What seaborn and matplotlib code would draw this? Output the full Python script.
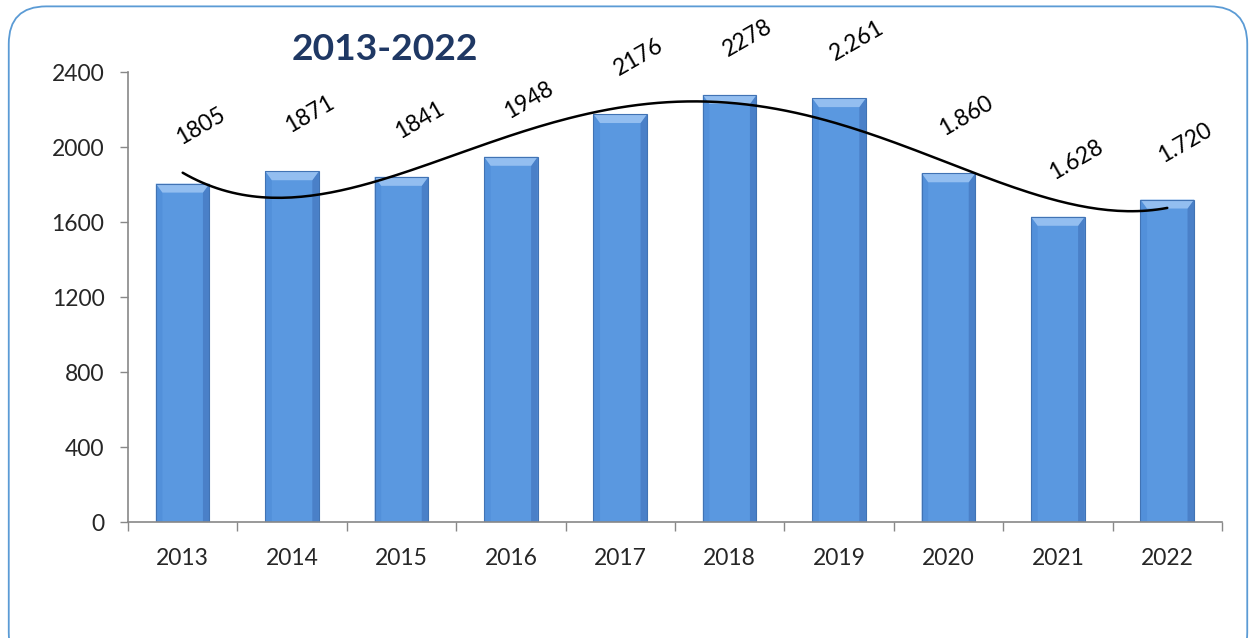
import matplotlib.pyplot as plt
import numpy as np
import pandas as pd
import seaborn as sns
from matplotlib.patches import FancyBboxPatch

years = ['2013', '2014', '2015', '2016', '2017', '2018', '2019', '2020', '2021', '2022']
values = [1805, 1871, 1841, 1948, 2176, 2278, 2261, 1860, 1628, 1720]
value_labels = ['1805', '1871', '1841', '1948', '2176', '2278', '2.261', '1.860', '1.628', '1.720']
y_ticks = [0, 400, 800, 1200, 1600, 2000, 2400]
title = '2013-2022'


def add_bevel(ax, patch, bx=0.06, by=48):
    """Fake the spreadsheet's bevelled bar look."""
    x0, w, h = patch.get_x(), patch.get_width(), patch.get_height()
    z = patch.get_zorder() + 0.1
    ax.fill([x0, x0 + bx, x0 + bx, x0], [h, h - by, 0, 0],
            color='#5290DA', linewidth=0, zorder=z)
    ax.fill([x0 + w, x0 + w - bx, x0 + w - bx, x0 + w], [h, h - by, 0, 0],
            color='#4A80C8', linewidth=0, zorder=z)
    ax.fill([x0, x0 + w, x0 + w - bx, x0 + bx], [h, h, h - by, h - by],
            color='#93BEF0', linewidth=0, zorder=z)
    ax.fill([x0, x0 + w, x0 + w, x0], [h, h, 0, 0],
            facecolor='none', edgecolor='#4173B4', linewidth=0.8, zorder=z + 0.1)


def main():
    sns.set_style('white')
    plt.rcParams['font.family'] = ['Lato', 'DejaVu Sans']

    df = pd.DataFrame({'year': years, 'value': values})

    fig = plt.figure(figsize=(12.51, 6.38), dpi=100)
    ax = fig.add_axes([0.1023, 0.1818, 0.8745, 0.7053])

    sns.barplot(data=df, x='year', y='value', color='#5A98E0', width=0.49,
                saturation=1, linewidth=0, ax=ax)
    for patch in list(ax.patches):
        add_bevel(ax, patch)

    # polynomial trendline as in the spreadsheet
    xs = np.arange(len(values))
    coeffs = np.polyfit(xs, values, 4)
    xf = np.linspace(0, len(values) - 1, 200)
    ax.plot(xf, np.polyval(coeffs, xf), color='black', linewidth=1.8, zorder=5)

    for i, (v, lab) in enumerate(zip(values, value_labels)):
        ax.annotate(lab, (i, v), xytext=(18, 57), textcoords='offset pixels',
                    ha='center', va='center', rotation=30, fontsize=16.5, color='black')

    ax.set_ylim(0, 2400)
    ax.set_xlim(-0.5, len(values) - 0.5)
    ax.set_yticks(y_ticks)
    ax.tick_params(axis='y', which='major', length=6, width=1, color='#888888',
                   labelsize=16.5, direction='out', left=True, pad=11)
    ax.tick_params(axis='x', which='major', length=0, labelsize=16.5, pad=19)
    ax.set_xticks(np.arange(-0.5, len(values), 1.0), minor=True)
    ax.tick_params(axis='x', which='minor', length=6.5, width=1, color='#888888',
                   direction='out', bottom=True)
    ax.set_xlabel('')
    ax.set_ylabel('')
    sns.despine(ax=ax, top=True, right=True)
    for side in ('left', 'bottom'):
        ax.spines[side].set_color('#888888')
        ax.spines[side].set_linewidth(1.2)

    fig.text(0.308, 0.922, title, ha='center', va='center', fontsize=26.8,
             fontweight='bold', color='#1F3864')

    frame = FancyBboxPatch((0.007, -0.05), 0.99, 1.04, transform=fig.transFigure,
                           boxstyle='round,pad=0,rounding_size=0.03',
                           facecolor='none', edgecolor='#5B9BD5', linewidth=1.3,
                           mutation_aspect=1251 / 638)
    fig.patches.append(frame)

    fig.savefig('out.png', dpi=100)
    plt.close(fig)


if __name__ == '__main__':
    main()
